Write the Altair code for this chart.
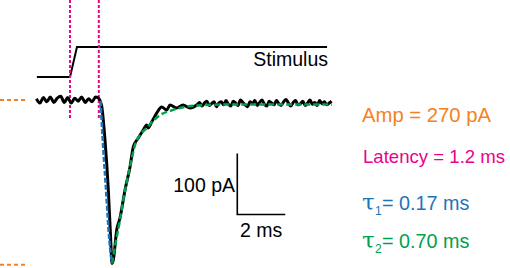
import altair as alt
import pandas as pd
import numpy as np

# Units: time in ms (stimulus onset = 0), current in pA (baseline = 0)
X_DOMAIN = [-2.917, 18.333]
Y_DOMAIN = [-275.4, 163.9]

# Stimulus trace (drawn with an offset above the current trace)
stim_t = [-1.38, 0.0, 0.29, 10.71]
stim_v = [37.7, 37.7, 86.9, 86.9]

# Pre-stimulus baseline noise, sampled every 0.145 ms from -1.4 ms
pre_noise = [2, -5, 4, -3, 5, -4, 3, 6, -4, 4, -5, 3, -2, 5, -4, 2, -3, 5, 2]

# Response (descent, peak and decay)
resp_t = [1.313, 1.458, 1.596, 1.696, 1.75, 1.804, 1.946, 2.083, 2.292, 2.5, 2.638, 2.846, 3.054,
          3.196, 3.25, 3.404, 3.613, 3.821, 4.029, 4.167, 4.446, 4.708, 5.0, 5.279]
resp_v = [-8.2, -65.6, -147.5, -229.5, -268.0, -262.3, -213.1, -193.4, -147.5, -109.8, -77.0, -62.3, -49.2,
          -41.0, -45.9, -36.1, -21.3, -11.5, -16.4, -8.2, -13.1, -8.2, -13.1, -8.2]

# Late baseline noise, sampled every 0.1 ms from 5.4 ms
tail_noise = [-4, -10, -5, -2, -9, -6, -3, -11, -5, -3,
              -8, -1, -7, -10, -2, -5, -9, 0, -4, -8,
              -11, -3, -6, -1, -9, -4, 0, -7, -10, -2,
              -5, -8, -1, -6, -9, -3, 1, -5, -10, -4,
              -1, -8, -6, -2, -9, -5, 0, -7, -4, -9,
              -1, -6, -3, -8, -5, -2]

# Fits
rise_fit_t = [1.271, 1.363, 1.5, 1.638, 1.738]
rise_fit_v = [-1.6, -65.6, -147.5, -229.5, -265.6]
decay_fit_t = [1.75, 1.946, 2.083, 2.221, 2.363, 2.5, 2.708, 2.917, 3.196, 3.458, 3.75, 4.167,
               4.583, 5.279, 6.667, 8.75, 10.917]
decay_fit_v = [-268.0, -224.6, -196.7, -163.9, -134.4, -109.8, -73.8, -57.4, -45.9, -34.4, -24.6, -18.0,
               -13.1, -9.0, -7.4, -7.4, -7.4]

latency_t = [0.0, 1.2]
amp_levels = [0.0, -270.0]

# Scale bar: 2 ms x 100 pA
sb_t0, sb_v0 = 6.97, -187.7
sb_dt, sb_dv = 2.0, 100.0

ORANGE = "#F58220"
PINK = "#EC008C"
BLUE = "#1B75BC"
GREEN = "#00A14B"
FONT = "Liberation Sans"
FS = 19.5

pre_t = list(np.round(-1.4 + 0.145 * np.arange(len(pre_noise)), 3))
tail_t = list(np.round(5.4 + 0.1 * np.arange(len(tail_noise)), 3))
trace_t = pre_t + resp_t + tail_t
trace_v = pre_noise + resp_v + tail_noise

xs = alt.Scale(domain=X_DOMAIN, nice=False, zero=False)
ys = alt.Scale(domain=Y_DOMAIN, nice=False, zero=False)


def line_df(t, v):
    return pd.DataFrame({"t": t, "v": v, "i": range(len(t))})


def enc():
    return dict(
        x=alt.X("t:Q", scale=xs, axis=None),
        y=alt.Y("v:Q", scale=ys, axis=None),
        order="i:Q",
    )


stim = alt.Chart(line_df(stim_t, stim_v)).mark_line(color="black", strokeWidth=2).encode(**enc())
trace = alt.Chart(line_df(trace_t, trace_v)).mark_line(
    color="black", strokeWidth=3, interpolate="monotone", strokeJoin="round").encode(**enc())
rise = alt.Chart(line_df(rise_fit_t, rise_fit_v)).mark_line(
    color=BLUE, strokeWidth=2.5, strokeDash=[5, 2], interpolate="monotone").encode(**enc())
decay = alt.Chart(line_df(decay_fit_t, decay_fit_v)).mark_line(
    color=GREEN, strokeWidth=2.5, strokeDash=[6, 3], interpolate="monotone").encode(**enc())

sb = alt.Chart(line_df([sb_t0, sb_t0, sb_t0 + sb_dt], [sb_v0 + sb_dv, sb_v0, sb_v0])).mark_line(
    color="black", strokeWidth=1.6).encode(**enc())

lat = alt.Chart(pd.DataFrame({"t": latency_t})).mark_rule(
    color=PINK, strokeWidth=2, strokeDash=[3, 2]).encode(
    x=alt.X("t:Q", scale=xs, axis=None), y=alt.value(0), y2=alt.value(118))

amp = alt.Chart(pd.DataFrame({"v": amp_levels})).mark_rule(
    color=ORANGE, strokeWidth=2, strokeDash=[4, 3]).encode(
    y=alt.Y("v:Q", scale=ys, axis=None), x=alt.value(0), x2=alt.value(27))

one = pd.DataFrame({"a": [0]})


def label(text, x, y, color="black", align="left", size=FS, font=FONT):
    return alt.Chart(one).mark_text(
        text=text, align=align, baseline="alphabetic", font=font, fontSize=size,
        color=color).encode(x=alt.value(x), y=alt.value(y))


texts = [
    label("Stimulus", 328, 66, align="right"),
    label("100 pA", 235, 192, align="right"),
    label("2 ms", 261, 237, align="center"),
    label("Amp = 270 pA", 362, 122, color=ORANGE, size=20.3),
    label("Latency = 1.2 ms", 363, 163, color=PINK, size=18.6),
    label("τ", 362, 210, color=BLUE, size=23, font="DejaVu Serif"),
    label("1", 375, 215, color=BLUE, size=12),
    label("= 0.17 ms", 382, 210, color=BLUE, size=19.8),
    label("τ", 362, 248, color=GREEN, size=23, font="DejaVu Serif"),
    label("2", 375, 253, color=GREEN, size=12),
    label("= 0.70 ms", 382, 248, color=GREEN, size=19.8),
]

chart = alt.layer(stim, lat, amp, trace, decay, rise, sb, *texts).properties(
    width=510, height=268, autosize=alt.AutoSizeParams(type="none"), padding=0
).configure_view(stroke=None)

chart.save("out.html", embed_options={"renderer": "svg", "actions": False})
